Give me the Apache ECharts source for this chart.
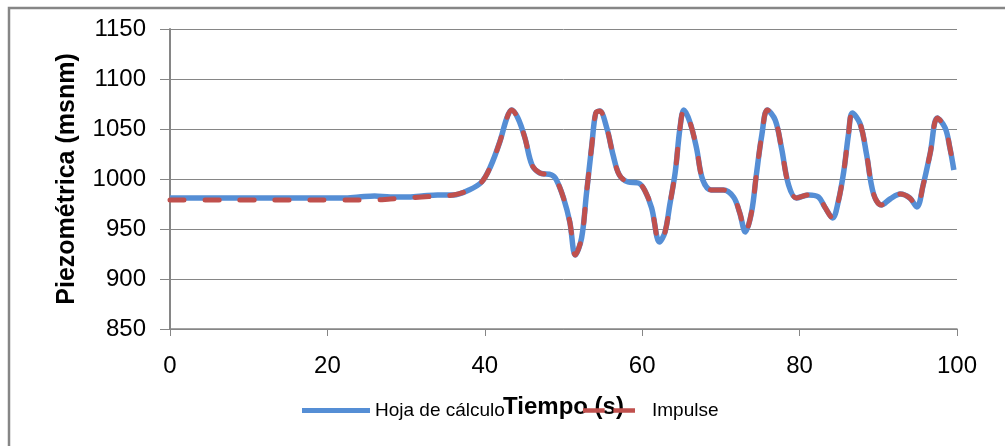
<!DOCTYPE html>
<html>
<head>
<meta charset="utf-8">
<script src="https://cdn.jsdelivr.net/npm/echarts@6/dist/echarts.min.js"></script>
<style>
html,body{margin:0;padding:0;background:#fff;}
#c{width:1005px;height:446px;}
</style>
</head>
<body>
<div id="c"></div>
<script>
var seriesNames = ['Hoja de cálculo', 'Impulse'];
var xTitle = 'Tiempo (s)';
var yTitle = 'Piezométrica (msnm)';

var times = [0, 5, 10, 15, 20, 22, 24, 26, 28, 30, 32, 34, 36, 38, 39.6, 40.7, 41.9, 42.8, 43.4, 44.2, 45.1, 46, 47, 48.5, 49.1, 50, 50.8, 51.5, 52.3, 52.9, 53.6, 54.1, 54.6, 55.5, 56.3, 57.1, 58.2, 59.5, 60.3, 61.2, 62.2, 62.9, 63.5, 64.2, 64.8, 65.3, 66.1, 66.9, 67.7, 68.8, 70.3, 71.6, 72.4, 73.1, 73.9, 74.5, 75.2, 75.9, 76.9, 77.7, 78.6, 79.6, 81.1, 82.4, 83.2, 84.2, 84.9, 85.6, 86.2, 86.7, 87.7, 88.5, 89.4, 90.4, 91.5, 92.8, 94, 94.9, 95.7, 96.6, 97.5, 98.5, 99.1, 99.6];

var hojaValues = [981, 981, 981, 981, 981, 981, 982, 983, 982, 982, 983, 984, 984, 989, 997, 1012, 1037, 1061, 1069, 1061, 1041, 1014, 1006, 1004, 999, 981, 957, 924, 941, 984, 1034, 1066, 1068, 1051, 1024, 1004, 997, 996, 989, 971, 937, 947, 974, 1007, 1051, 1069, 1056, 1031, 999, 989, 989, 982, 966, 947, 967, 1004, 1044, 1069, 1059, 1031, 994, 981, 984, 982, 972, 961, 977, 1007, 1044, 1066, 1055, 1025, 985, 974, 980, 985, 981, 972, 994, 1026, 1061, 1051, 1031, 1009];

var impulseValues = [979, 979, 979, 979, 979, 979, 979, 979, 980, 981, 982, 983, 984, 989, 997, 1012, 1037, 1061, 1069, 1061, 1041, 1014, 1006, 1004, 999, 981, 957, 924, 941, 984, 1034, 1066, 1068, 1051, 1024, 1004, 997, 996, 989, 971, 937, 947, 974, 1007, 1051, 1069, 1056, 1031, 999, 989, 989, 982, 966, 947, 967, 1004, 1044, 1069, 1059, 1031, 994, 981, 984, 982, 972, 961, 977, 1007, 1044, 1066, 1055, 1025, 985, 974, 980, 985, 981, 972, 994, 1026, 1061, 1051, 1031, 1009];

function pairs(xs, ys) { return xs.map(function (x, i) { return [x, ys[i]]; }); }

var grey = '#868686';
var blue = '#558ED5';
var red = '#C0504D';
var font = 'Liberation Sans, Arial, sans-serif';

var chart = echarts.init(document.getElementById('c'), null, {renderer: 'canvas'});
chart.setOption({
  animation: false,
  backgroundColor: '#fff',
  graphic: [{
    type: 'rect',
    shape: {x: 9, y: 8, width: 1010, height: 450},
    style: {fill: 'none', stroke: grey, lineWidth: 2.5},
    silent: true
  }],
  grid: {left: 170, right: 48, top: 29, bottom: 117},
  legend: [{
    data: [{name: seriesNames[0], icon: 'rect', itemStyle: {color: blue, borderWidth: 0}, lineStyle: {width: 0, opacity: 0}}],
    left: 297, top: 396,
    itemWidth: 68, itemHeight: 5,
    textStyle: {fontSize: 19, color: '#000', fontFamily: font}
  }, {
    data: [{name: seriesNames[1], icon: 'path://M0,0H10V2H0Z M14,0H24V2H14Z', itemStyle: {color: red, borderWidth: 0}, lineStyle: {width: 0, opacity: 0}}],
    left: 578, top: 396,
    itemWidth: 52, itemHeight: 5,
    textStyle: {fontSize: 19, color: '#000', fontFamily: font, padding: [0, 0, 0, 12]}
  }],
  xAxis: {
    type: 'value', min: 0, max: 100, interval: 20,
    name: xTitle, nameLocation: 'middle', nameGap: 66,
    nameTextStyle: {fontSize: 24, fontWeight: 'bold', color: '#000', fontFamily: font},
    axisLine: {lineStyle: {color: grey, width: 1.5}},
    axisTick: {show: true, length: 7, lineStyle: {color: grey}},
    axisLabel: {fontSize: 24, color: '#000', margin: 25, fontFamily: font},
    splitLine: {show: false}
  },
  yAxis: {
    type: 'value', min: 850, max: 1150, interval: 50,
    name: yTitle, nameLocation: 'middle', nameGap: 90, nameRotate: 90,
    nameTextStyle: {fontSize: 25, fontWeight: 'bold', color: '#000', fontFamily: font},
    axisLine: {show: true, lineStyle: {color: grey, width: 2}},
    axisTick: {show: true, length: 10, lineStyle: {color: grey}},
    axisLabel: {fontSize: 24, color: '#000', margin: 24, fontFamily: font,
      formatter: function (v) { return String(v); }},
    splitLine: {show: true, lineStyle: {color: grey, width: 1}}
  },
  series: [{
    name: seriesNames[0], type: 'line', data: pairs(times, hojaValues),
    smooth: 0.35, showSymbol: false, symbol: 'none',
    lineStyle: {color: blue, width: 5.5},
    itemStyle: {color: blue}
  }, {
    name: seriesNames[1], type: 'line', data: pairs(times, impulseValues),
    smooth: 0.35, showSymbol: false, symbol: 'none',
    lineStyle: {color: red, width: 5, type: [14, 21], cap: 'round'},
    itemStyle: {color: red}
  }]
});
</script>
</body>
</html>
